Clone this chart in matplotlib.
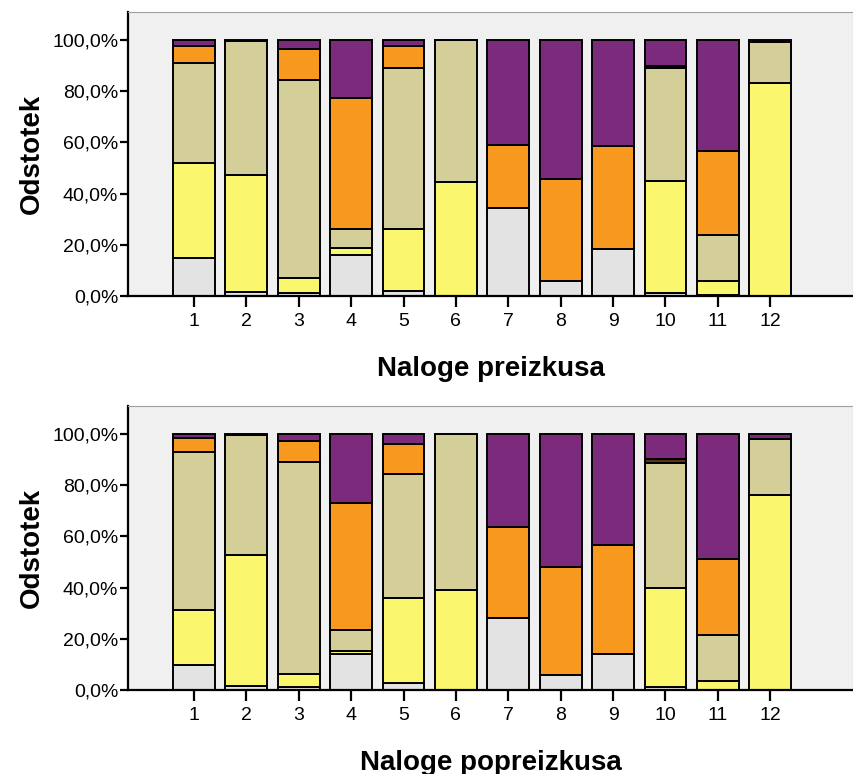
import matplotlib.pyplot as plt
import numpy as np
from matplotlib.ticker import FuncFormatter

plt.rcParams['font.family'] = ['Liberation Sans', 'DejaVu Sans']

# task numbers
tasks = list(range(1, 13))

# answer categories, bottom to top
colors = ['#E3E3E3', '#FAF76F', '#D4CF98', '#F8991F', '#5A3512', '#7C2A7B']

# pre-test percentages
pre_gray = [14.7, 1.7, 1.2, 16.0, 2.1, 0, 34.5, 6.0, 18.5, 1.2, 0.3, 0]
pre_yellow = [37.4, 45.7, 5.8, 2.75, 24.1, 44.5, 0, 0, 0, 43.8, 5.6, 83.3]
pre_khaki = [39.0, 52.0, 77.5, 7.45, 62.7, 55.3, 0, 0, 0, 44.1, 17.8, 15.7]
pre_orange = [6.6, 0, 11.9, 51.0, 8.8, 0, 24.5, 39.8, 40.2, 0, 33.1, 0]
pre_brown = [0, 0.6, 0, 0, 0, 0.2, 0, 0, 0, 0.9, 0, 0]
pre_purple = [2.3, 0, 3.6, 22.8, 2.3, 0, 41.0, 54.2, 41.3, 10.0, 43.2, 1.0]

# post-test percentages
post_gray = [9.8, 1.4, 1.3, 14.2, 2.7, 0, 28.3, 5.7, 14.2, 1.0, 0, 0]
post_yellow = [21.5, 51.2, 5.1, 0.9, 33.3, 38.9, 0, 0, 0, 38.8, 3.4, 76.2]
post_khaki = [61.8, 46.9, 82.8, 8.3, 48.5, 61.1, 0, 0, 0, 49.0, 17.9, 21.8]
post_orange = [5.2, 0, 8.2, 49.8, 11.6, 0, 35.4, 42.3, 42.6, 0, 30.0, 0]
post_brown = [0, 0.5, 0, 0, 0, 0, 0, 0, 0, 1.4, 0, 0]
post_purple = [1.7, 0, 2.6, 26.8, 3.9, 0, 36.3, 52.0, 43.2, 9.8, 48.7, 2.0]

pre = [pre_gray, pre_yellow, pre_khaki, pre_orange, pre_brown, pre_purple]
post = [post_gray, post_yellow, post_khaki, post_orange, post_brown, post_purple]

fig = plt.figure(figsize=(8.54, 7.74), dpi=100)
W, H = 854, 774


def draw(ax, series, xlabel):
    ax.set_facecolor('#F0F0F0')
    bottom = np.zeros(len(tasks))
    for vals, c in zip(series, colors):
        vals = np.array(vals, dtype=float)
        mask = vals > 0
        ax.bar(np.array(tasks)[mask], vals[mask], bottom=bottom[mask], width=0.8,
               color=c, edgecolor='black', linewidth=1.4, zorder=2)
        bottom += vals
    ax.set_xlim(-0.26, 13.58)
    ax.set_ylim(0, 110.9)
    ax.set_xticks(tasks)
    ax.set_yticks([0, 20, 40, 60, 80, 100])
    ax.yaxis.set_major_formatter(FuncFormatter(lambda v, p: f'{v:.1f}%'.replace('.', ',')))
    ax.tick_params(axis='both', labelsize=14, width=1.6, color='black')
    ax.tick_params(axis='y', length=6, pad=1)
    ax.tick_params(axis='x', length=8, pad=4)
    for s in ['left', 'bottom']:
        ax.spines[s].set_linewidth(1.6)
        ax.spines[s].set_color('black')
    for s in ['top', 'right']:
        ax.spines[s].set_linewidth(0.8)
        ax.spines[s].set_color('#A0A0A0')
    ax.set_ylabel('Odstotek', fontsize=20, fontweight='bold', labelpad=5)
    ax.set_xlabel(xlabel, fontsize=20, fontweight='bold', labelpad=19)


ax1 = fig.add_axes([128 / W, 1 - 296 / H, 725 / W, 284 / H])
draw(ax1, pre, 'Naloge preizkusa')

ax2 = fig.add_axes([128 / W, 1 - 690 / H, 725 / W, 284 / H])
draw(ax2, post, 'Naloge popreizkusa')

fig.savefig('out.png', dpi=100)
